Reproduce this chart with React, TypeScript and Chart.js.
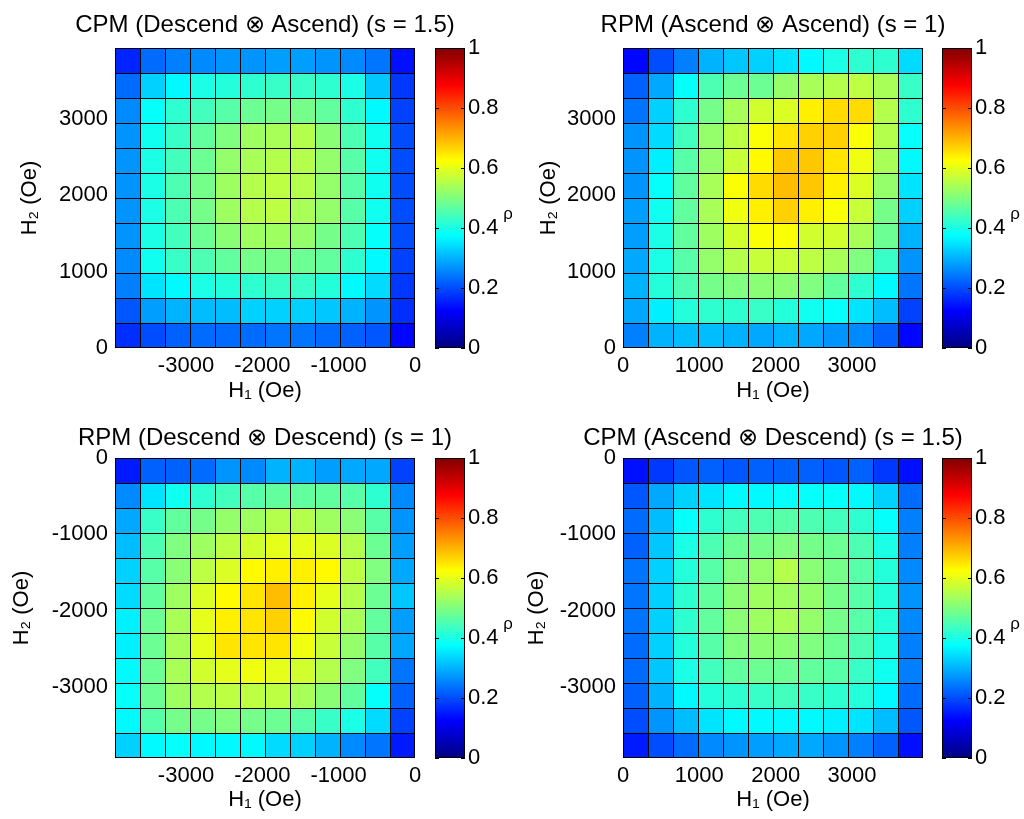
import React, { useEffect, useRef } from "react";
import { Chart, registerables } from "chart.js";

Chart.register(...registerables);

const FONT = "'Liberation Sans', Arial, Helvetica, sans-serif";

// ---------- data ----------
const POS_EDGES = [0, 327.5, 655, 982.5, 1310, 1637.5, 1965, 2292.5, 2620, 2947.5, 3275, 3602.5, 3930];
const NEG_EDGES = [-3930, -3602.5, -3275, -2947.5, -2620, -2292.5, -1965, -1637.5, -1310, -982.5, -655, -327.5, 0];
const POS_TICKS = [0, 1000, 2000, 3000];
const NEG_TICKS = [-3000, -2000, -1000, 0];
const RHO_TICKS = [0, 0.2, 0.4, 0.6, 0.8, 1];

const TITLES = [
  "CPM (Descend \u2297 Ascend) (s = 1.5)",
  "RPM (Ascend \u2297 Ascend) (s = 1)",
  "RPM (Descend \u2297 Descend) (s = 1)",
  "CPM (Ascend \u2297 Descend) (s = 1.5)",
];
const X_TITLE = "H\u2081 (Oe)";
const Y_TITLE = "H\u2082 (Oe)";
const CBAR_LABEL = "\u03C1";

// rows listed top to bottom as displayed, columns left to right
const RHO_TL = [
  [0.16, 0.23, 0.25, 0.26, 0.27, 0.27, 0.28, 0.28, 0.27, 0.26, 0.24, 0.14],
  [0.23, 0.33, 0.37, 0.40, 0.41, 0.42, 0.43, 0.43, 0.42, 0.40, 0.32, 0.18],
  [0.26, 0.38, 0.42, 0.44, 0.46, 0.48, 0.49, 0.49, 0.47, 0.42, 0.37, 0.19],
  [0.27, 0.39, 0.43, 0.47, 0.50, 0.53, 0.54, 0.55, 0.51, 0.45, 0.39, 0.20],
  [0.27, 0.40, 0.44, 0.48, 0.52, 0.54, 0.55, 0.55, 0.52, 0.46, 0.39, 0.20],
  [0.27, 0.40, 0.45, 0.49, 0.53, 0.55, 0.56, 0.55, 0.52, 0.46, 0.39, 0.20],
  [0.27, 0.40, 0.45, 0.49, 0.53, 0.55, 0.56, 0.54, 0.52, 0.46, 0.39, 0.20],
  [0.27, 0.40, 0.44, 0.48, 0.51, 0.53, 0.53, 0.52, 0.49, 0.45, 0.38, 0.20],
  [0.26, 0.39, 0.43, 0.45, 0.47, 0.49, 0.49, 0.48, 0.47, 0.42, 0.37, 0.19],
  [0.25, 0.35, 0.37, 0.40, 0.41, 0.42, 0.43, 0.43, 0.41, 0.37, 0.34, 0.18],
  [0.21, 0.28, 0.30, 0.31, 0.31, 0.33, 0.33, 0.33, 0.32, 0.30, 0.27, 0.17],
  [0.17, 0.20, 0.22, 0.23, 0.23, 0.23, 0.24, 0.24, 0.23, 0.22, 0.21, 0.13],
];

const RHO_TR = [
  [0.13, 0.20, 0.25, 0.30, 0.32, 0.33, 0.35, 0.37, 0.40, 0.42, 0.42, 0.34],
  [0.22, 0.29, 0.38, 0.45, 0.48, 0.48, 0.52, 0.54, 0.55, 0.56, 0.54, 0.43],
  [0.24, 0.33, 0.42, 0.49, 0.54, 0.58, 0.59, 0.64, 0.66, 0.66, 0.55, 0.42],
  [0.27, 0.34, 0.44, 0.52, 0.56, 0.62, 0.65, 0.67, 0.67, 0.62, 0.55, 0.38],
  [0.27, 0.36, 0.46, 0.52, 0.57, 0.63, 0.68, 0.68, 0.65, 0.61, 0.54, 0.37],
  [0.27, 0.38, 0.47, 0.54, 0.62, 0.66, 0.69, 0.68, 0.64, 0.59, 0.52, 0.35],
  [0.28, 0.39, 0.47, 0.54, 0.61, 0.64, 0.67, 0.64, 0.62, 0.57, 0.49, 0.33],
  [0.28, 0.40, 0.47, 0.53, 0.58, 0.62, 0.62, 0.58, 0.58, 0.54, 0.48, 0.30],
  [0.29, 0.40, 0.46, 0.52, 0.55, 0.57, 0.57, 0.56, 0.54, 0.50, 0.43, 0.27],
  [0.30, 0.41, 0.45, 0.49, 0.50, 0.51, 0.51, 0.50, 0.47, 0.42, 0.37, 0.24],
  [0.29, 0.36, 0.41, 0.42, 0.42, 0.43, 0.41, 0.39, 0.38, 0.35, 0.31, 0.19],
  [0.25, 0.30, 0.31, 0.31, 0.30, 0.29, 0.30, 0.29, 0.27, 0.26, 0.22, 0.13],
];

const RHO_BL = [
  [0.15, 0.22, 0.22, 0.23, 0.27, 0.26, 0.30, 0.30, 0.28, 0.29, 0.29, 0.19],
  [0.26, 0.35, 0.39, 0.42, 0.44, 0.46, 0.47, 0.47, 0.47, 0.46, 0.42, 0.26],
  [0.29, 0.43, 0.47, 0.49, 0.52, 0.53, 0.55, 0.55, 0.53, 0.51, 0.46, 0.27],
  [0.31, 0.45, 0.50, 0.53, 0.56, 0.58, 0.60, 0.60, 0.59, 0.55, 0.48, 0.28],
  [0.33, 0.46, 0.51, 0.56, 0.59, 0.63, 0.64, 0.64, 0.63, 0.56, 0.50, 0.29],
  [0.34, 0.47, 0.53, 0.59, 0.63, 0.65, 0.69, 0.64, 0.60, 0.55, 0.48, 0.32],
  [0.36, 0.48, 0.54, 0.60, 0.64, 0.65, 0.67, 0.63, 0.58, 0.54, 0.47, 0.28],
  [0.36, 0.48, 0.54, 0.60, 0.65, 0.65, 0.65, 0.61, 0.57, 0.52, 0.46, 0.29],
  [0.37, 0.48, 0.54, 0.58, 0.60, 0.61, 0.60, 0.58, 0.55, 0.50, 0.44, 0.24],
  [0.38, 0.48, 0.53, 0.55, 0.56, 0.56, 0.56, 0.54, 0.51, 0.47, 0.38, 0.22],
  [0.37, 0.46, 0.49, 0.49, 0.50, 0.49, 0.48, 0.46, 0.43, 0.40, 0.34, 0.19],
  [0.33, 0.37, 0.38, 0.37, 0.37, 0.37, 0.34, 0.33, 0.30, 0.26, 0.24, 0.15],
];

const RHO_BR = [
  [0.14, 0.18, 0.21, 0.22, 0.21, 0.22, 0.22, 0.22, 0.21, 0.22, 0.18, 0.14],
  [0.21, 0.29, 0.33, 0.35, 0.37, 0.37, 0.38, 0.38, 0.38, 0.37, 0.33, 0.23],
  [0.23, 0.31, 0.38, 0.42, 0.44, 0.45, 0.46, 0.45, 0.44, 0.42, 0.38, 0.25],
  [0.22, 0.32, 0.40, 0.45, 0.48, 0.49, 0.50, 0.49, 0.48, 0.45, 0.40, 0.25],
  [0.24, 0.33, 0.41, 0.46, 0.50, 0.52, 0.55, 0.51, 0.49, 0.46, 0.41, 0.26],
  [0.24, 0.33, 0.42, 0.47, 0.51, 0.53, 0.53, 0.52, 0.49, 0.46, 0.41, 0.27],
  [0.24, 0.33, 0.42, 0.47, 0.51, 0.53, 0.54, 0.52, 0.49, 0.46, 0.41, 0.26],
  [0.23, 0.33, 0.41, 0.46, 0.50, 0.51, 0.51, 0.50, 0.48, 0.45, 0.40, 0.25],
  [0.23, 0.32, 0.40, 0.44, 0.47, 0.48, 0.48, 0.47, 0.46, 0.43, 0.39, 0.25],
  [0.22, 0.30, 0.37, 0.41, 0.42, 0.43, 0.44, 0.43, 0.42, 0.41, 0.37, 0.23],
  [0.20, 0.27, 0.31, 0.35, 0.37, 0.37, 0.37, 0.37, 0.36, 0.35, 0.31, 0.21],
  [0.15, 0.20, 0.23, 0.26, 0.27, 0.28, 0.29, 0.29, 0.27, 0.25, 0.22, 0.14],
];

// ---------- helpers ----------
function jet(v: number): string {
  const c = (x: number) => Math.round(255 * Math.max(0, Math.min(1, x)));
  return `rgb(${c(1.5 - Math.abs(4 * v - 3))},${c(1.5 - Math.abs(4 * v - 2))},${c(1.5 - Math.abs(4 * v - 1))})`;
}
const JET_STOPS = [0, 0.125, 0.375, 0.625, 0.875, 1];

type Box = { left: number; top: number; width: number; height: number };
type Area = { left: number; top: number; right: number; bottom: number };

interface PanelSpec {
  title: string;
  rho: number[][];
  xEdges: number[];
  yEdges: number[];
  xTicks: number[];
  yTicks: number[];
  canvas: Box;
  area: Area;
  titleY: number;
  xTitleY: number;
  yTitleX: number;
  cbar: Box;
  cbLeft: number;
  cbRight: number;
}

// heat canvases are centred on their plot area so the full-width title centres over the plot
const PANELS: PanelSpec[] = [
  {
    title: TITLES[0], rho: RHO_TL, xEdges: NEG_EDGES, yEdges: POS_EDGES, xTicks: NEG_TICKS, yTicks: POS_TICKS,
    canvas: { left: 0, top: 0, width: 530, height: 410 }, area: { left: 115, top: 48, right: 415, bottom: 348 },
    titleY: 25.5, xTitleY: 391, yTitleX: 30,
    cbar: { left: 430, top: 0, width: 82, height: 410 }, cbLeft: 435, cbRight: 465,
  },
  {
    title: TITLES[1], rho: RHO_TR, xEdges: POS_EDGES, yEdges: POS_EDGES, xTicks: POS_TICKS, yTicks: POS_TICKS,
    canvas: { left: 520, top: 0, width: 506, height: 410 }, area: { left: 623, top: 48, right: 923, bottom: 348 },
    titleY: 25.5, xTitleY: 391, yTitleX: 549,
    cbar: { left: 938, top: 0, width: 86, height: 410 }, cbLeft: 942, cbRight: 972,
  },
  {
    title: TITLES[2], rho: RHO_BL, xEdges: NEG_EDGES, yEdges: NEG_EDGES, xTicks: NEG_TICKS, yTicks: NEG_TICKS,
    canvas: { left: 0, top: 410, width: 530, height: 409 }, area: { left: 115, top: 458, right: 415, bottom: 758 },
    titleY: 438.5, xTitleY: 800, yTitleX: 22,
    cbar: { left: 430, top: 410, width: 82, height: 409 }, cbLeft: 435, cbRight: 465,
  },
  {
    title: TITLES[3], rho: RHO_BR, xEdges: POS_EDGES, yEdges: NEG_EDGES, xTicks: POS_TICKS, yTicks: NEG_TICKS,
    canvas: { left: 520, top: 410, width: 506, height: 409 }, area: { left: 623, top: 458, right: 923, bottom: 758 },
    titleY: 438.5, xTitleY: 800, yTitleX: 537,
    cbar: { left: 938, top: 410, width: 86, height: 409 }, cbLeft: 942, cbRight: 972,
  },
];

const FS = 22;
const LH = FS * 1.2;
const TFS = 24;
const TLH = TFS * 1.2;

const framePlugin = {
  id: "frame",
  afterDraw(chart: any) {
    const { ctx, chartArea: a } = chart;
    ctx.save();
    ctx.strokeStyle = "#000";
    ctx.lineWidth = 1;
    ctx.strokeRect(a.left + 0.5, a.top + 0.5, a.right - a.left - 1, a.bottom - a.top - 1);
    ctx.restore();
  },
};

const cbarPlugin = {
  id: "cbarDecor",
  afterDraw(chart: any) {
    const { ctx, chartArea: a } = chart;
    const ys = chart.scales.y;
    ctx.save();
    ctx.strokeStyle = "#000";
    ctx.lineWidth = 1;
    RHO_TICKS.forEach((v) => {
      const y = Math.round(ys.getPixelForValue(v)) + 0.5;
      ctx.beginPath();
      ctx.moveTo(a.left, y);
      ctx.lineTo(a.left + 4, y);
      ctx.moveTo(a.right - 4, y);
      ctx.lineTo(a.right, y);
      ctx.stroke();
    });
    ctx.fillStyle = "#000";
    ctx.font = `17px ${FONT}`;
    ctx.textAlign = "center";
    ctx.textBaseline = "middle";
    ctx.fillText(CBAR_LABEL, a.right + 43, ys.getPixelForValue(0.4) - 14);
    ctx.restore();
  },
};

function Panel({ spec }: { spec: PanelSpec }) {
  const heatRef = useRef<HTMLCanvasElement>(null);
  const barRef = useRef<HTMLCanvasElement>(null);

  useEffect(() => {
    const { rho, xEdges, yEdges, xTicks, yTicks, canvas, area, cbar } = spec;
    const n = rho.length;
    const points: any[] = [];
    const colors: string[] = [];
    rho.forEach((row, r) =>
      row.forEach((v, c) => {
        points.push({ x: (xEdges[c] + xEdges[c + 1]) / 2, y: [yEdges[n - 1 - r], yEdges[n - r]] });
        colors.push(jet(v));
      })
    );

    const tickFont = { family: FONT, size: FS };
    const titlePadTop = spec.titleY - canvas.top - TLH / 2;
    const titlePadBottom = area.top - canvas.top - TLH - titlePadTop;

    const heat = new Chart(heatRef.current!, {
      type: "bar",
      data: {
        datasets: [
          {
            data: points,
            backgroundColor: colors,
            borderColor: "#000",
            borderWidth: { top: 1, left: 1, right: 0, bottom: 0 },
            borderSkipped: false,
            inflateAmount: 0,
            barPercentage: 1,
            categoryPercentage: 1,
          } as any,
        ],
      },
      options: {
        responsive: false,
        animation: false,
        devicePixelRatio: 1,
        events: [],
        layout: { padding: 0 },
        plugins: {
          legend: { display: false },
          tooltip: { enabled: false },
          title: {
            display: true,
            text: spec.title,
            fullSize: true,
            color: "#000",
            font: { family: FONT, size: TFS, weight: "normal" },
            padding: { top: titlePadTop, bottom: titlePadBottom },
          },
        },
        scales: {
          x: {
            type: "linear",
            min: xEdges[0],
            max: xEdges[n],
            offset: false,
            grid: { display: false, drawTicks: false },
            border: { display: false },
            ticks: { color: "#000", font: tickFont, padding: 5, callback: (v: any) => String(v) },
            afterBuildTicks: (s: any) => {
              s.ticks = xTicks.map((value) => ({ value }));
            },
            afterFit: (s: any) => {
              s.height = canvas.top + canvas.height - area.bottom;
            },
            title: {
              display: true,
              text: X_TITLE,
              color: "#000",
              font: { family: FONT, size: FS },
              padding: { top: 0, bottom: canvas.top + canvas.height - spec.xTitleY - LH / 2 },
            },
          },
          y: {
            type: "linear",
            min: yEdges[0],
            max: yEdges[n],
            grid: { display: false, drawTicks: false },
            border: { display: false },
            ticks: { color: "#000", font: tickFont, padding: 7, callback: (v: any) => String(v) },
            afterBuildTicks: (s: any) => {
              s.ticks = yTicks.map((value) => ({ value }));
            },
            afterFit: (s: any) => {
              s.width = area.left - canvas.left;
            },
            title: {
              display: true,
              text: Y_TITLE,
              color: "#000",
              font: { family: FONT, size: FS },
              padding: { top: spec.yTitleX - canvas.left - LH / 2, bottom: 0 },
            },
          },
          // empty spacer axis on the right, keeps the plot area where it belongs
          spacer: {
            type: "linear",
            position: "right",
            display: true,
            grid: { display: false, drawTicks: false },
            border: { display: false },
            ticks: { display: false },
            afterFit: (s: any) => {
              s.width = canvas.left + canvas.width - area.right;
            },
          },
        },
      } as any,
      plugins: [framePlugin],
    });

    const bar = new Chart(barRef.current!, {
      type: "bar",
      data: {
        labels: [""],
        datasets: [
          {
            data: [[RHO_TICKS[0], RHO_TICKS[RHO_TICKS.length - 1]]],
            backgroundColor: (c: any) => {
              const a = c.chart.chartArea;
              if (!a) return jet(0.5);
              const g = c.chart.ctx.createLinearGradient(0, a.bottom, 0, a.top);
              JET_STOPS.forEach((s) => g.addColorStop(s, jet(s)));
              return g;
            },
            borderColor: "#000",
            borderWidth: 1,
            borderSkipped: false,
            inflateAmount: 0,
            barPercentage: 1,
            categoryPercentage: 1,
          } as any,
        ],
      },
      options: {
        responsive: false,
        animation: false,
        devicePixelRatio: 1,
        events: [],
        layout: {
          padding: {
            left: spec.cbLeft - cbar.left,
            top: area.top - cbar.top,
            bottom: cbar.top + cbar.height - area.bottom,
            right: 0,
          },
        },
        plugins: { legend: { display: false }, tooltip: { enabled: false } },
        scales: {
          x: { display: false },
          y: {
            position: "right",
            min: 0,
            max: 1,
            grid: { display: false, drawTicks: false },
            border: { display: false },
            ticks: { color: "#000", font: tickFont, padding: 3, callback: (v: any) => String(v) },
            afterBuildTicks: (s: any) => {
              s.ticks = RHO_TICKS.map((value) => ({ value }));
            },
            afterFit: (s: any) => {
              s.width = cbar.left + cbar.width - spec.cbRight;
            },
          },
        },
      } as any,
      plugins: [cbarPlugin],
    });

    return () => {
      heat.destroy();
      bar.destroy();
    };
  }, [spec]);

  const { canvas, cbar } = spec;
  return (
    <>
      <canvas
        ref={heatRef}
        width={canvas.width}
        height={canvas.height}
        style={{ position: "absolute", left: canvas.left, top: canvas.top, width: canvas.width, height: canvas.height }}
      />
      <canvas
        ref={barRef}
        width={cbar.width}
        height={cbar.height}
        style={{ position: "absolute", left: cbar.left, top: cbar.top, width: cbar.width, height: cbar.height }}
      />
    </>
  );
}

export default function App() {
  return (
    <div style={{ position: "absolute", left: 0, top: 0, width: 1024, height: 819, background: "#fff", overflow: "hidden" }}>
      {PANELS.map((p, i) => (
        <Panel key={i} spec={p} />
      ))}
    </div>
  );
}
